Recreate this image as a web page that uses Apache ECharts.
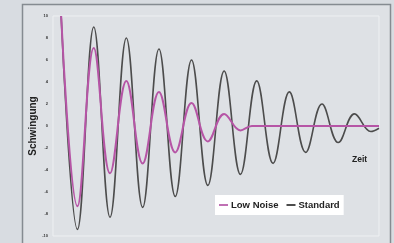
<!DOCTYPE html>
<html>
<head>
<meta charset="utf-8">
<script src="https://cdn.jsdelivr.net/npm/echarts@6/dist/echarts.min.js"></script>
<style>
  html, body { margin: 0; padding: 0; background: #d8dce1; }
  #chart { width: 394px; height: 243px; }
</style>
</head>
<body>
<div id="chart"></div>
<script>
// time of each reading (half periods)
var timeStandard = [0.5, 1.5, 2.5, 3.5, 4.5, 5.5, 6.5, 7.5, 8.5, 9.5, 10.5,
  11.5, 12.5, 13.5, 14.5, 15.5, 16.5, 17.5, 18.5, 19.5, 20];
var standard = [10, -9.4, 9, -8.3, 8, -7.4, 7, -6.4, 6, -5.4, 5,
  -4.4, 4.1, -3.4, 3.1, -2.4, 2, -1.5, 1.1, -0.5, -0.2];

var timeLowNoise = [0.5, 1.5, 2.5, 3.5, 4.5, 5.5, 6.5, 7.5, 8.5, 9.5, 10.5, 11.5, 12.2, 20];
var lowNoise = [10, -7.3, 7.1, -4.3, 4.1, -3.4, 3.1, -2.4, 2.1, -1.4, 1.1, -0.4, 0, 0];

var yTicks = [-10, 10, 2];

function pairs(t, v) {
  return t.map(function (x, i) { return [x, v[i]]; });
}

var chart = echarts.init(document.getElementById('chart'));
chart.setOption({
  animation: false,
  backgroundColor: '#d8dce1',
  textStyle: { fontFamily: 'Liberation Sans, Arial, sans-serif' },
  graphic: [{
    type: 'rect',
    shape: { x: 22.5, y: 4.5, width: 368, height: 250 },
    style: { fill: '#dee1e5', stroke: '#858b91', lineWidth: 1.5 },
    z: -10
  }],
  title: {
    text: 'Zeit',
    left: 352,
    top: 155,
    padding: 0,
    textStyle: { fontSize: 8.5, fontWeight: 'bold', color: '#222' }
  },
  grid: {
    left: 53,
    right: 15,
    top: 16,
    bottom: 7,
    show: true,
    borderColor: '#eef0f2',
    borderWidth: 1
  },
  legend: {
    left: 215,
    top: 195,
    padding: [5, 4],
    backgroundColor: '#fff',
    itemGap: 8,
    itemWidth: 9,
    itemHeight: 2,
    icon: 'rect',
    textStyle: { fontSize: 9.5, fontWeight: 'bold', color: '#222', padding: [0, 0, 0, -2] },
    data: ['Low Noise', 'Standard']
  },
  xAxis: {
    type: 'value',
    min: 0,
    max: 20,
    axisLine: { show: false },
    axisTick: { show: false },
    axisLabel: { show: false },
    splitLine: { show: false }
  },
  yAxis: {
    type: 'value',
    min: yTicks[0],
    max: yTicks[1],
    interval: yTicks[2],
    name: 'Schwingung',
    nameLocation: 'middle',
    nameRotate: 90,
    nameGap: 15,
    nameMoveOverlap: false,
    nameTextStyle: { fontSize: 10, fontWeight: 'bold', color: '#222' },
    axisLine: { show: false },
    axisTick: { show: false },
    splitLine: { show: false },
    axisLabel: { fontSize: 4, fontWeight: 'bold', color: '#333', margin: 5 }
  },
  series: [{
    name: 'Standard',
    type: 'line',
    data: pairs(timeStandard, standard),
    smooth: 0.4,
    showSymbol: false,
    z: 2,
    itemStyle: { color: '#4c4c4c' },
    lineStyle: { color: '#4c4c4c', width: 1.6 }
  }, {
    name: 'Low Noise',
    type: 'line',
    data: pairs(timeLowNoise, lowNoise),
    smooth: 0.4,
    showSymbol: false,
    z: 3,
    itemStyle: { color: '#c070b4' },
    lineStyle: { color: '#b655a6', width: 2 }
  }]
});
</script>
</body>
</html>
